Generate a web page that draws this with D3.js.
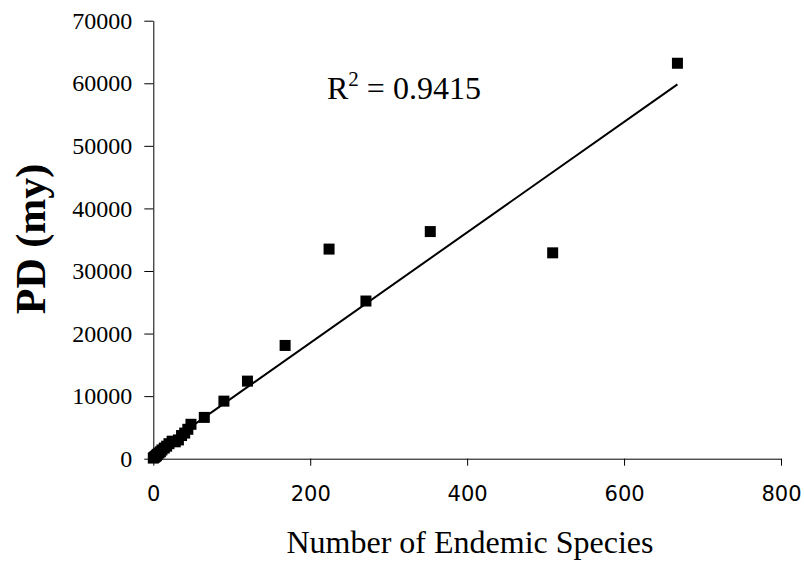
<!DOCTYPE html>
<html>
<head>
<meta charset="utf-8">
<script src="https://cdn.jsdelivr.net/npm/d3@7"></script>
<style>
  html, body { margin: 0; padding: 0; background: #fff; }
  svg { display: block; }
</style>
</head>
<body>
<svg id="chart" width="804" height="561"></svg>
<script>
// Number of endemic species per region and the phylogenetic diversity (my)
const endemicSpecies = [0, 1, 2, 3, 4, 5, 7, 9, 11, 14, 17, 20, 24, 28, 32, 36, 40, 44, 48, 65, 90, 120, 168, 224, 271, 353, 509, 668];
const pdMy = [100, 200, 300, 400, 500, 700, 900, 1100, 1400, 1700, 2000, 2400, 2800, 2700, 3000, 3700, 4100, 4700, 5500, 6600, 9200, 12400, 18100, 33500, 25200, 36300, 32900, 63200];

// Linear trendline as printed on the chart
const trendSlope = 88.3;
const trendIntercept = 850;
const rSquared = "0.9415";

const xTicks = [0, 200, 400, 600, 800];
const yTicks = [0, 10000, 20000, 30000, 40000, 50000, 60000, 70000];

const svg = d3.select("#chart");

const x = d3.scaleLinear().domain([0, 800]).range([153.3, 781]);
const y = d3.scaleLinear().domain([0, 70000]).range([458.7, 20.7]);

// y axis
const yAxis = svg.append("g")
  .attr("transform", `translate(${x(0)},0)`)
  .call(d3.axisLeft(y).tickValues(yTicks).tickSize(9).tickSizeOuter(0).tickPadding(12).tickFormat(d3.format("d")));
yAxis.selectAll("text")
  .style("font-family", "'Liberation Serif', 'Times New Roman', serif")
  .style("font-size", "24px")
  .attr("fill", "#000");

// x axis
const xAxis = svg.append("g")
  .attr("transform", `translate(0,${y(0)})`)
  .call(d3.axisBottom(x).tickValues(xTicks).tickSize(7).tickSizeOuter(0).tickPadding(20));
xAxis.selectAll("text")
  .style("font-family", "'DejaVu Sans', Verdana, sans-serif")
  .style("font-size", "21px")
  .attr("fill", "#000");

svg.selectAll(".domain, .tick line").attr("stroke", "#000").attr("stroke-width", 1);

// trendline over the data range
const [xMin, xMax] = d3.extent(endemicSpecies);
const line = d3.line().x(d => x(d)).y(d => y(trendSlope * d + trendIntercept));
svg.append("path")
  .datum([xMin, xMax])
  .attr("d", line)
  .attr("fill", "none")
  .attr("stroke", "#000")
  .attr("stroke-width", 2);

// markers
const size = 11;
svg.append("g")
  .selectAll("rect")
  .data(endemicSpecies.map((d, i) => [d, pdMy[i]]))
  .join("rect")
  .attr("x", d => x(d[0]) - size / 2)
  .attr("y", d => y(d[1]) - size / 2)
  .attr("width", size)
  .attr("height", size)
  .attr("fill", "#000");

// R squared label
const r2 = svg.append("text")
  .attr("x", 327)
  .attr("y", 99)
  .attr("font-family", "'Liberation Serif', 'Times New Roman', serif")
  .attr("font-size", 32)
  .attr("fill", "#000");
r2.append("tspan").text("R");
r2.append("tspan").attr("dy", -13).attr("font-size", 21).text("2");
r2.append("tspan").attr("dy", 13).text(" = " + rSquared);

// axis titles
svg.append("text")
  .attr("x", 470)
  .attr("y", 553)
  .attr("text-anchor", "middle")
  .attr("font-family", "'Liberation Serif', 'Times New Roman', serif")
  .attr("font-size", 32)
  .attr("fill", "#000")
  .text("Number of Endemic Species");

svg.append("text")
  .attr("transform", "translate(45,239) rotate(-90)")
  .attr("text-anchor", "middle")
  .attr("font-family", "'Liberation Serif', 'Times New Roman', serif")
  .attr("font-weight", "bold")
  .attr("font-size", 42)
  .attr("fill", "#000")
  .text("PD (my)");
</script>
</body>
</html>
